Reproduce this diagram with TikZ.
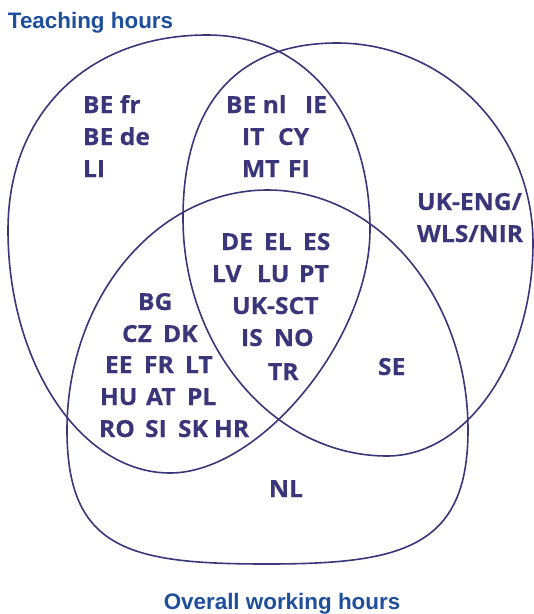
\documentclass[tikz,border=0pt]{standalone}
\usepackage{fontspec}
\newfontfamily\codefont{Open Sans}[BoldFeatures={FakeStretch=1.05,FakeBold=0.4}]
\newfontfamily\titlefont{Liberation Sans}
\definecolor{linec}{HTML}{3A3679}
\definecolor{codec}{HTML}{3A3679}
\definecolor{titlec}{HTML}{1F4E9B}
\begin{document}
\begin{tikzpicture}[x=1pt,y=-1pt,
  setline/.style={draw=linec,line width=1.6pt},
  code/.style={anchor=base west,inner sep=0pt,outer sep=0pt,text=codec,font=\codefont\bfseries\fontsize{23.5}{23.5}\selectfont},
  ttl/.style={inner sep=0pt,outer sep=0pt,text=titlec,font=\titlefont\bfseries\fontsize{22.4}{22.4}\selectfont}]
\useasboundingbox (0,0) rectangle (534,614);
% Teaching hours set
\draw[setline] (207,35) .. controls (305,35) and (370,113) .. (370,230)
  .. controls (370,339) and (260,473) .. (170,473)
  .. controls (81,473) and (8,364) .. (8,230)
  .. controls (8,113) and (88,35) .. (207,35) -- cycle;
% right set
\draw[setline] (337,43) .. controls (445,43) and (533,133) .. (533,243)
  .. controls (533,360) and (467,456) .. (387,456)
  .. controls (275,456) and (183,349) .. (183,218)
  .. controls (183,104) and (237,43) .. (337,43) -- cycle;
% Overall working hours set
\draw[setline] (67,430) .. controls (67,297.5) and (157,190) .. (267.5,190)
  .. controls (378,190) and (468,297.5) .. (468,430)
  .. controls (468,548) and (402,564) .. (267,564)
  .. controls (130,564) and (67,550) .. (67,430) -- cycle;
% titles
\node[ttl,anchor=base west] (th) at (8,28) {Teaching hours};
\node[ttl,anchor=base] (ow) at (282,609) {Overall working hours};
% codes
\node[code] (t1) at (83,113) {BE fr};
\node[code] (t2) at (83,145) {BE de};
\node[code] (t3) at (83,177) {LI};
\node[code] (t4) at (226,113) {BE nl};
\node[code] (t5) at (305,113) {IE};
\node[code] (t6) at (242,145) {IT};
\node[code] (t7) at (278,145) {CY};
\node[code] (t8) at (242,177) {MT};
\node[code] (t9) at (288,177) {FI};
\node[code] (t10) at (417,210) {UK-ENG/};
\node[code] (t11) at (417,242) {WLS/NIR};
\node[code] (t12) at (221,250) {DE};
\node[code] (t13) at (264,250) {EL};
\node[code] (t14) at (303,250) {ES};
\node[code] (t15) at (212,282) {LV};
\node[code] (t16) at (257,282) {LU};
\node[code] (t17) at (299,282) {PT};
\node[code] (t18) at (232,314) {UK-SCT};
\node[code] (t19) at (241,346) {IS};
\node[code] (t20) at (274,346) {NO};
\node[code] (t21) at (268,380) {TR};
\node[code] (t22) at (138,310) {BG};
\node[code] (t23) at (122,342) {CZ};
\node[code] (t24) at (163,342) {DK};
\node[code] (t25) at (105,373) {EE};
\node[code] (t26) at (144,373) {FR};
\node[code] (t27) at (185,373) {LT};
\node[code] (t28) at (100,405) {HU};
\node[code] (t29) at (146,405) {AT};
\node[code] (t30) at (187,405) {PL};
\node[code] (t31) at (99,437) {RO};
\node[code] (t32) at (145,437) {SI};
\node[code] (t33) at (178,437) {SK};
\node[code] (t34) at (214,437) {HR};
\node[code] (t35) at (378,375) {SE};
\node[code] (t36) at (269,497) {NL};
\end{tikzpicture}
\end{document}
